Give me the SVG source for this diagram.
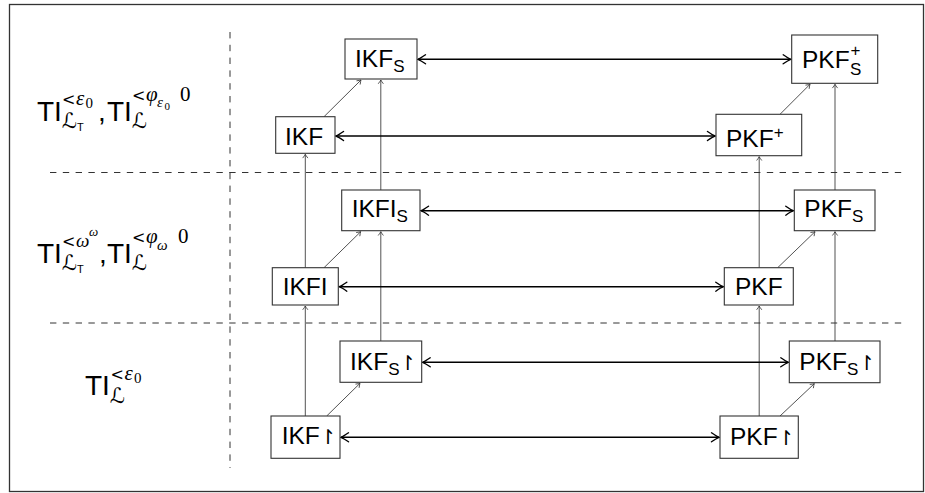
<svg xmlns="http://www.w3.org/2000/svg" width="925" height="493" viewBox="0 0 925 493">
<style>
.box{fill:#fff;stroke:#333;stroke-width:1.1}
.t{font-family:'Liberation Sans',Arial,sans-serif;font-size:24.5px;fill:#000}
.sub{font-size:17px}
.harp{font-family:'DejaVu Sans',sans-serif;font-size:20px}
.thick{stroke:#000;stroke-width:1.6;fill:none;marker-start:url(#ah);marker-end:url(#ah)}
.thin{stroke:#333;stroke-width:0.85;fill:none;marker-end:url(#at)}
.dash{stroke:#333;stroke-width:1;stroke-dasharray:6.4 6.4;fill:none}
.lab{font-family:'Liberation Sans',Arial,sans-serif;font-size:28px;fill:#000}
.mi{font-family:'Liberation Serif','Times New Roman',serif;font-style:italic}
.lt{font-family:'DejaVu Serif',serif;font-size:16px}
.mr{font-family:'Liberation Serif','Times New Roman',serif}
.cal{font-family:'DejaVu Sans','DejaVu Serif',serif}
.s1{font-size:21px}
.s2{font-size:15px}
.s3{font-size:11px}
</style>
<defs>
<marker id="ah" viewBox="-9 -6 10 12" markerWidth="10" markerHeight="12" refX="0" refY="0" orient="auto-start-reverse" markerUnits="userSpaceOnUse"><path d="M-7.5,-4.5 Q-2.5,-1 0,0 Q-2.5,1 -7.5,4.5" fill="none" stroke="#000" stroke-width="1.4" stroke-linecap="round"/></marker>
<marker id="at" viewBox="-5 -4 6 8" markerWidth="6" markerHeight="8" refX="0" refY="0" orient="auto" markerUnits="userSpaceOnUse"><path d="M-3.8,-2.6 Q-1.2,-0.6 0,0 Q-1.2,0.6 -3.8,2.6" fill="none" stroke="#333" stroke-width="0.8"/></marker>
</defs>
<rect x="9.5" y="4.5" width="914" height="487" fill="#fff" stroke="#333" stroke-width="1.3"/>
<g id="separators">
<path class="dash" d="M50,172.5 H905"/>
<path class="dash" d="M50,323 H905"/>
<path class="dash" d="M230,32 V468"/>
</g>
<g id="labels">
<text id="label1" class="lab"><tspan x="37" y="121">TI</tspan><tspan class="lt" x="62" y="105">&lt;</tspan><tspan class="mi s1" x="76" y="105">ε</tspan><tspan class="mr s2" x="85.5" y="108">0</tspan><tspan class="cal s1" x="62" y="128">ℒ</tspan><tspan class="s3" x="77" y="131">T</tspan><tspan x="98" y="121">,</tspan><tspan x="107" y="121">TI</tspan><tspan class="lt" x="132" y="101">&lt;</tspan><tspan class="mi s1" x="146" y="101">φ</tspan><tspan class="mi s2" x="157" y="107">ε</tspan><tspan class="mr s3" x="164.5" y="110">0</tspan><tspan class="mr s1" x="180" y="101">0</tspan><tspan class="cal s1" x="132" y="128">ℒ</tspan></text>
<text id="label2" class="lab"><tspan x="37" y="263">TI</tspan><tspan class="lt" x="62" y="247">&lt;</tspan><tspan class="mi" style="font-size:19px" x="76" y="247">ω</tspan><tspan class="mi" style="font-size:13px" x="89" y="236">ω</tspan><tspan class="cal s1" x="62" y="270">ℒ</tspan><tspan class="s3" x="77" y="273">T</tspan><tspan x="99" y="263">,</tspan><tspan x="107" y="263">TI</tspan><tspan class="lt" x="132" y="243">&lt;</tspan><tspan class="mi s1" x="146" y="243">φ</tspan><tspan class="mi s2" x="157" y="250">ω</tspan><tspan class="mr s1" x="178" y="243">0</tspan><tspan class="cal s1" x="132" y="270">ℒ</tspan></text>
<text id="label3" class="lab"><tspan x="85" y="395">TI</tspan><tspan class="lt" x="110.5" y="380">&lt;</tspan><tspan class="mi s1" x="124.5" y="380">ε</tspan><tspan class="mr s2" x="134" y="383">0</tspan><tspan class="cal s1" x="110" y="403">ℒ</tspan></text>
</g>
<g id="edges">
<path class="thin" d="M305.3,416 V306"/>
<path class="thin" d="M305.3,267.7 V154.3"/>
<path class="thin" d="M380.8,341 V231.7"/>
<path class="thin" d="M380.8,190 V80"/>
<path class="thin" d="M759.2,416 V306"/>
<path class="thin" d="M759.2,267.7 V156.7"/>
<path class="thin" d="M835,341 V231.7"/>
<path class="thin" d="M835,190 V84.3"/>
<path class="thin" d="M324,116.7 L361,80"/>
<path class="thin" d="M780,114.3 L810,84.3"/>
<path class="thin" d="M324,267.7 L360.7,231.7"/>
<path class="thin" d="M777.7,267.7 L815,231.7"/>
<path class="thin" d="M326.7,416 L360,383.3"/>
<path class="thin" d="M780,416 L814.3,383.7"/>
<path class="thick" d="M418,59.3 H790.7"/>
<path class="thick" d="M336,136 H715"/>
<path class="thick" d="M421,210.7 H793.3"/>
<path class="thick" d="M339.3,286.7 H723.3"/>
<path class="thick" d="M422.7,362.3 H788.3"/>
<path class="thick" d="M341,437.3 H719"/>
</g>
<g id="IKFS"><rect class="box" x="345" y="39" width="72" height="40"/><text class="t" x="355" y="67">IKF<tspan class="sub" dy="5">S</tspan></text></g>
<g id="PKFSplus"><rect class="box" x="791.7" y="35" width="86" height="48.3"/><text class="t" x="802" y="67.5">PKF<tspan class="sub" x="850" y="75">S</tspan><tspan class="sub" x="850.5" y="56">+</tspan></text></g>
<g id="IKF"><rect class="box" x="275.7" y="116.7" width="59.3" height="36.6"/><text class="t" x="285" y="145">IKF</text></g>
<g id="PKFplus"><rect class="box" x="716" y="114.3" width="85.7" height="41.4"/><text class="t" x="726" y="146.5">PKF<tspan class="sub" dy="-9">+</tspan></text></g>
<g id="IKFIS"><rect class="box" x="341.7" y="190" width="78.3" height="40.7"/><text class="t" x="351.7" y="217.3">IKFI<tspan class="sub" dy="5">S</tspan></text></g>
<g id="PKFS"><rect class="box" x="794.3" y="190" width="80.7" height="40.7"/><text class="t" x="804.3" y="217.3">PKF<tspan class="sub" dy="5">S</tspan></text></g>
<g id="IKFI"><rect class="box" x="272.3" y="267.7" width="66" height="37.3"/><text class="t" x="282.7" y="295">IKFI</text></g>
<g id="PKF"><rect class="box" x="724.3" y="267.7" width="69" height="37.3"/><text class="t" x="735" y="295">PKF</text></g>
<g id="IKFSr"><rect class="box" x="340" y="341" width="81.7" height="41.3"/><text class="t" x="350" y="370">IKF<tspan class="sub" dy="5">S</tspan><tspan class="harp" x="399.5" y="370">↾</tspan></text></g>
<g id="PKFSr"><rect class="box" x="789.3" y="341" width="90.7" height="41.7"/><text class="t" x="799.3" y="370">PKF<tspan class="sub" dy="5">S</tspan><tspan class="harp" x="858.5" y="370">↾</tspan></text></g>
<g id="IKFr"><rect class="box" x="271" y="416" width="69" height="42.3"/><text class="t" x="281.7" y="444">IKF<tspan class="harp" x="319.8" y="444">↾</tspan></text></g>
<g id="PKFr"><rect class="box" x="720" y="416" width="78.3" height="42.3"/><text class="t" x="730" y="444.5">PKF<tspan class="harp" x="777.7" y="444.5">↾</tspan></text></g>
</svg>
